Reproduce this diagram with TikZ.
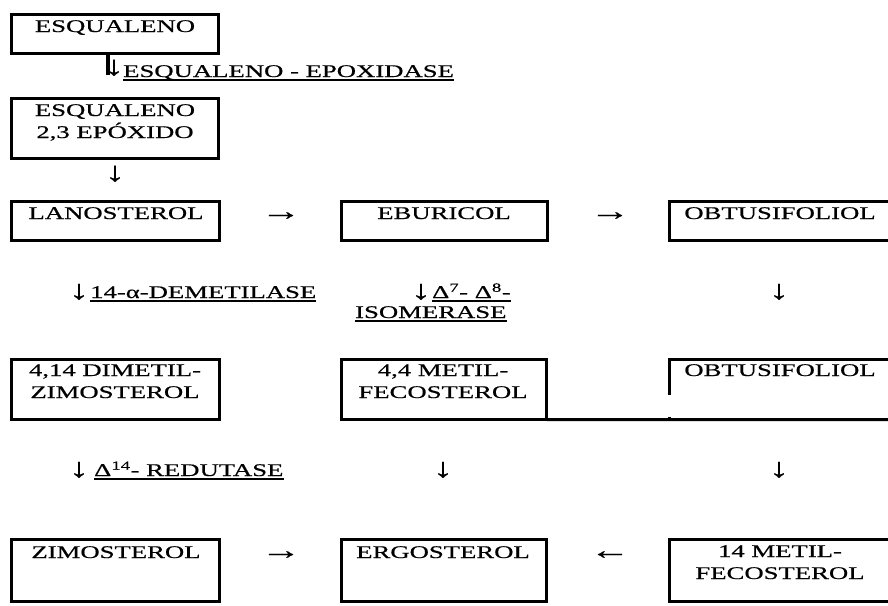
\documentclass[tikz,border=0pt]{standalone}
\usepackage{fontspec}
\setmainfont{Liberation Serif}[FakeStretch=1.5,FakeBold=0.6]
\begin{document}
\begin{tikzpicture}[x=1pt,y=-1pt,
  box/.style={draw, line width=2.8pt, inner sep=0pt, anchor=north west},
  txt/.style={font=\fontsize{17.8}{22}\selectfont, inner sep=0pt, anchor=base},
  txtw/.style={txt, anchor=base west},
  arr/.style={txt, font=\fontsize{27}{30}\selectfont},
  uline/.style={line width=1.1pt},
  bar/.style={line width=4pt}]
\useasboundingbox (0,0) rectangle (888,605);
\clip (0,0) rectangle (888,605);
\fill[white] (0,0) rectangle (888,605);

% boxes (anchor at outer edge)
\node[box, minimum width=207.2pt, minimum height=39.2pt] (b1) at (10,13) {};
\node[box, minimum width=207.2pt, minimum height=60.2pt] (b2) at (10,97) {};
\node[box, minimum width=208.2pt, minimum height=39.2pt] (lan) at (10,200) {};
\node[box, minimum width=206.2pt, minimum height=39.2pt] (ebu) at (340,200) {};
\node[box, minimum width=221.2pt, minimum height=39.2pt] (obt) at (668,200) {};
\node[box, minimum width=208.2pt, minimum height=60.2pt] (dim) at (10,358) {};
\node[box, minimum width=205.2pt, minimum height=60.2pt] (fec) at (340,358) {};
\node[box, minimum width=208.2pt, minimum height=62.2pt] (zim) at (10,538) {};
\node[box, minimum width=205.2pt, minimum height=62.2pt] (erg) at (340,538) {};
\node[box, minimum width=221.2pt, minimum height=62.2pt] (met) at (668,538) {};

% open box of second OBTUSIFOLIOL
\coordinate (o2a) at (669.4,395);
\coordinate (o2b) at (669.4,359.4);
\coordinate (o2c) at (895,359.4);
\coordinate (o2d) at (895,419.6);
\coordinate (o2e) at (669.4,416.5);
\coordinate (o2f) at (669.4,421);
\draw[line width=2.8pt] (o2a) -- (o2b) -- (o2c);
\draw[line width=2.8pt] ([xshift=-1.4pt,yshift=1.4pt]fec.south east) -- (o2d);
\draw[line width=2.8pt] (o2e) -- (o2f);

% box texts
\node[txt] (t1) at (115,32) {ESQUALENO};
\node[txt] (t2a) at (115,116) {ESQUALENO};
\node[txt] (t2b) at (115,138) {2,3 EPÓXIDO};
\node[txt] (t3) at (116,219) {LANOSTEROL};
\node[txt] (t4) at (444,219) {EBURICOL};
\node[txt] (t5) at (780,219) {OBTUSIFOLIOL};
\node[txt] (t6a) at (115,376) {4,14 DIMETIL-};
\node[txt] (t6b) at (115,398) {ZIMOSTEROL};
\node[txt] (t7a) at (443,376) {4,4 METIL-};
\node[txt] (t7b) at (443,398) {FECOSTEROL};
\node[txt] (t8) at (780,376) {OBTUSIFOLIOL};
\node[txt] (t9) at (116,558) {ZIMOSTEROL};
\node[txt] (t10) at (443,558) {ERGOSTEROL};
\node[txt] (t11a) at (780,557) {14 METIL-};
\node[txt] (t11b) at (780,579) {FECOSTEROL};

% first step
\coordinate (barend) at (108,75);
\draw[bar] (b1.south -| barend) -- (barend);
\node[arr] (ar0) at (114,75) {↓};
\node[txtw] (e1) at (123,77) {ESQUALENO - EPOXIDASE};
\draw[uline] ([yshift=-3pt]e1.base west) -- ([yshift=-3pt]e1.base east);

\node[arr] (ar1) at (115,181) {↓};

% row 3 arrows
\node[arr] (ar2) at (281,220) {→};
\node[arr] (ar3) at (610,220) {→};

% enzyme row 1
\node[arr] (ar4) at (79,299) {↓};
\node[txtw] (e2) at (90,298) {14-α-DEMETILASE};
\draw[uline] ([yshift=-3pt]e2.base west) -- ([yshift=-3pt]e2.base east);
\node[arr] (ar5) at (421,299) {↓};
\node[txtw] (e3) at (432,298) {Δ\textsuperscript{7}- Δ\textsuperscript{8}-};
\draw[uline] ([yshift=-3pt]e3.base west) -- ([yshift=-3pt]e3.base east);
\node[txtw] (e4) at (355,318) {ISOMERASE};
\draw[uline] ([yshift=-3pt]e4.base west) -- ([yshift=-3pt]e4.base east);
\node[arr] (ar6) at (779,299) {↓};

% enzyme row 2
\node[arr] (ar7) at (79,477) {↓};
\node[txtw] (e5) at (94,476) {Δ\textsuperscript{14}- REDUTASE};
\draw[uline] ([yshift=-3pt]e5.base west) -- ([yshift=-3pt]e5.base east);
\node[arr] (ar8) at (443,477) {↓};
\node[arr] (ar9) at (779,477) {↓};

% row 5 arrows
\node[arr] (ar10) at (281,559) {→};
\node[arr] (ar11) at (610,559) {←};
\end{tikzpicture}
\end{document}
